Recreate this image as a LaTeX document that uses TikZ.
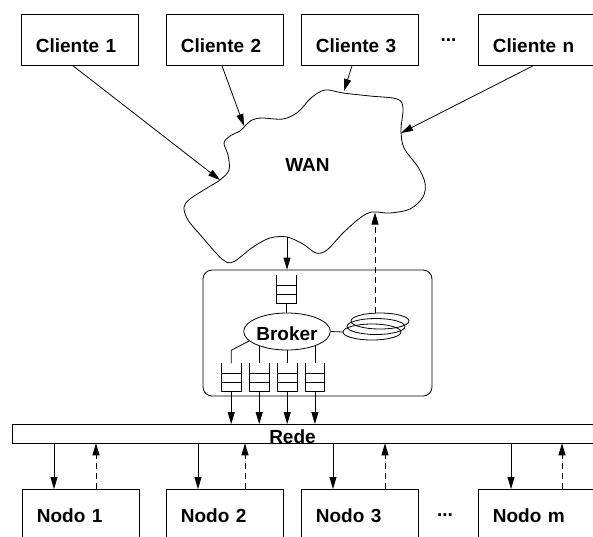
\documentclass[tikz,border=0pt]{standalone}
\usepackage{fontspec}
\setmainfont{Liberation Sans}
\usetikzlibrary{arrows.meta,shapes.geometric}

\begin{document}
\begin{tikzpicture}[x=1pt,y=-1pt,
  every node/.style={font=\fontsize{19pt}{22pt}\selectfont\bfseries},
  wire/.style={line width=0.8pt},
  host/.style={draw, wire, anchor=north west, inner xsep=14.5pt, inner ysep=0pt,
               text width=88pt, align=left},
  client/.style={host, text height=38pt, text depth=13pt},
  nodo/.style={host, text height=33pt, text depth=22pt},
  link/.style={wire, -{Triangle[length=12pt,width=7pt]}},
  reply/.style={link, dash pattern=on 6pt off 4pt},
  queue/.style={minimum width=19pt, minimum height=28pt, inner sep=0pt},
]
\clip (0,0) rectangle (593,536);

% clients
\node[client] (c1) at (21,14)  {Cliente 1};
\node[client] (c2) at (166,14) {Cliente 2};
\node[client] (c3) at (301,14) {Cliente 3};
\node[client, text width=118pt] (cn) at (478,14) {Cliente n};
\node[anchor=base] (cdots) at (448.5,41.5) {...};

% wide area network cloud
\draw[wire] plot[smooth cycle, tension=0.55] coordinates {
  (245,126) (252,120) (262,118) (283,119) (298,112) (311,98) (325,90)
  (343,93) (370,96) (397,99) (403,108) (401,130) (404,148) (418,167)
  (425,183) (423,197) (410,209) (390,213) (372,212) (360,218) (343,233)
  (327,250) (316,253) (303,244) (287,237) (270,238) (253,247) (233,262)
  (222,259) (203,238) (188,220) (184,207) (190,199) (207,188) (220,180)
  (229,170) (228,155) (224,143) (230,136) (240,131)};
\node[anchor=base] (wan) at (307.5,171.5) {WAN};

\coordinate (t1) at (220,180);
\coordinate (t2) at (244,126);
\coordinate (t3) at (344,91);
\coordinate (tn) at (401,133);
\coordinate (wb) at (287,237);
\coordinate (wd) at (375,212.5);

\draw[link] ([xshift=52pt]c1.south west) -- (t1);
\draw[link] ([xshift=56pt]c2.south west) -- (t2);
\draw[link] ([xshift=51pt]c3.south west) -- (t3);
\draw[link] ([xshift=55pt]cn.south west) -- (tn);

% broker host
\node[draw, wire, rounded corners=9pt, minimum width=229pt, minimum height=126pt,
      inner sep=0pt] (bbox) at (317.5,333) {};
\draw[link] (wb) -- (wb |- bbox.north);

\node[queue] (q0) at (286.5,289) {};
\node[ellipse, draw, wire, minimum width=85pt, minimum height=37pt, inner sep=0pt,
      text height=18pt, text depth=0pt] (broker) at (287,331.5) {Broker};
\node[queue] (q1) at (231.2,377.5) {};
\node[queue] (q2) at (259.2,377.5) {};
\node[queue] (q3) at (287.2,377.5) {};
\node[queue] (q4) at (314.9,377.5) {};

\foreach \q in {q0,q1,q2,q3,q4} {
  \draw[wire] (\q.north west) -- (\q.south west) -- (\q.south east) -- (\q.north east);
  \draw[wire] ([yshift=-10.5pt]\q.north west) -- ([yshift=-10.5pt]\q.north east);
  \draw[wire] ([yshift=-19.5pt]\q.north west) -- ([yshift=-19.5pt]\q.north east);
}

\draw[wire] (q0.south) -- (q0.south |- broker.north);
\draw[wire] (broker.194) -- ([yshift=13pt]q1.north) -- (q1.north);
\draw[wire] (q2.north) -- (q2.north |- broker.207);
\draw[wire] (q3.north) -- (q3.north |- broker.south);
\draw[wire] (q4.north) -- (q4.north |- broker.333);

% coiled result store
\coordinate (cl) at (343,332);
\coordinate (ct) at (375,312.5);
\draw[wire] (broker.east) -- (cl);
\draw[wire] (372,332) ellipse [x radius=29, y radius=8];
\draw[wire] (376,326.5) ellipse [x radius=29, y radius=8];
\draw[wire] (380,321) ellipse [x radius=29, y radius=8];
\draw[reply] (ct) -- (wd);

% network bus
\node[draw, wire, anchor=north west, minimum width=608pt, minimum height=18.5pt,
      inner sep=0pt] (rede) at (12,424) {};
\node[anchor=base] (redetext) at (292.5,443) {Rede};

\foreach \q in {q1,q2,q3,q4}
  \draw[link] (\q.south) -- (\q.south |- rede.north);

% processing nodes
\node[nodo] (n1) at (22,489)  {Nodo 1};
\node[nodo] (n2) at (166,489) {Nodo 2};
\node[nodo] (n3) at (301,489) {Nodo 3};
\node[nodo, text width=118pt] (nm) at (478,489) {Nodo m};
\node[anchor=base] (ndots) at (445,516) {...};

\foreach \n/\a/\b in {n1/32/74, n2/32/79, n3/32/84, nm/33/84} {
  \coordinate (\n-in) at ([xshift=\a pt]\n.north west);
  \coordinate (\n-out) at ([xshift=\b pt]\n.north west);
  \draw[link] (\n-in |- rede.south) -- (\n-in);
  \draw[reply] (\n-out) -- (\n-out |- rede.south);
}
\end{tikzpicture}
\end{document}
